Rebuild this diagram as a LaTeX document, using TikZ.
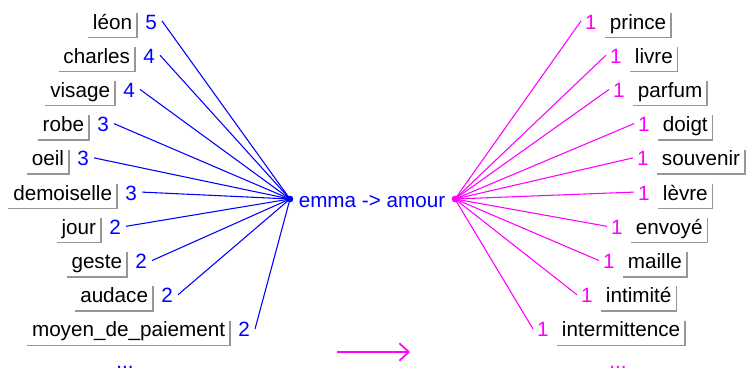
\documentclass[tikz,border=0pt]{standalone}
\usepackage{fontspec}
\setmainfont{Liberation Sans}
\usetikzlibrary{arrows.meta}
\definecolor{eblue}{RGB}{0,0,255}
\definecolor{emag}{RGB}{255,0,255}
\definecolor{framegray}{RGB}{150,150,150}
\begin{document}
\begin{tikzpicture}[x=0.75pt,y=-0.75pt,
  font=\fontsize{15.5}{18}\selectfont,
  word/.style={inner xsep=3.5pt, inner ysep=0pt, minimum height=18pt, text height=10pt, text depth=4pt},
  numb/.style={inner sep=0pt, text height=10pt, text depth=4pt},
  boxline/.style={draw=framegray, line width=1.1pt},
  lb/.style={eblue, line width=0.8pt},
  lm/.style={emag, line width=0.8pt},
  hub/.style={circle, inner sep=0pt, minimum size=5pt}]
\useasboundingbox (0,0) rectangle (747,371);

\node[hub, fill=eblue] (hubL) at (290,199) {};
\node[hub, fill=emag] (hubR) at (455,199) {};
\node[eblue, anchor=base] (title) at (372,207) {emma -> amour};

\foreach \w/\r/\n [count=\i from 0] in {léon/137/5, charles/135/4, visage/115/4, robe/89/3, oeil/69/3, demoiselle/117/3, jour/101/2, geste/127/2, audace/153/2, moyen\_de\_paiement/230/2}
{
  \node[word, anchor=east] (w\i) at (\r, 25+34.22*\i) {\w};
  \draw[boxline] (w\i.north east) -- (w\i.south east) -- (w\i.south west);
  \node[numb, eblue, anchor=west] (n\i) at ([xshift=6pt]w\i.east) {\n};
  \draw[lb] ([shift={(5,-4)}]n\i.east) -- (hubL.center);
}

\foreach \w/\l [count=\i from 0] in {prince/605, livre/630, parfum/633, doigt/658, souvenir/657, lèvre/658, envoyé/631, maille/623, intimité/601, intermittence/557}
{
  \node[word, anchor=west] (r\i) at (\l, 25+34.22*\i) {\w};
  \draw[boxline] (r\i.north east) -- (r\i.south east) -- (r\i.south west);
  \node[numb, emag, anchor=east] (m\i) at ([xshift=-6pt]r\i.west) {1};
  \draw[lm] (hubR.center) -- ([shift={(-4,-4)}]m\i.west);
}

\node[eblue, anchor=base] (dotsL) at (125,368) {...};
\node[emag, anchor=base] (dotsR) at (618,368) {...};

\coordinate (a1) at (337,352);
\coordinate (a2) at (410,352);
\draw[emag, line width=1.3pt, -{Straight Barb[length=7pt,width=13pt]}] (a1) -- (a2);
\end{tikzpicture}
\end{document}
